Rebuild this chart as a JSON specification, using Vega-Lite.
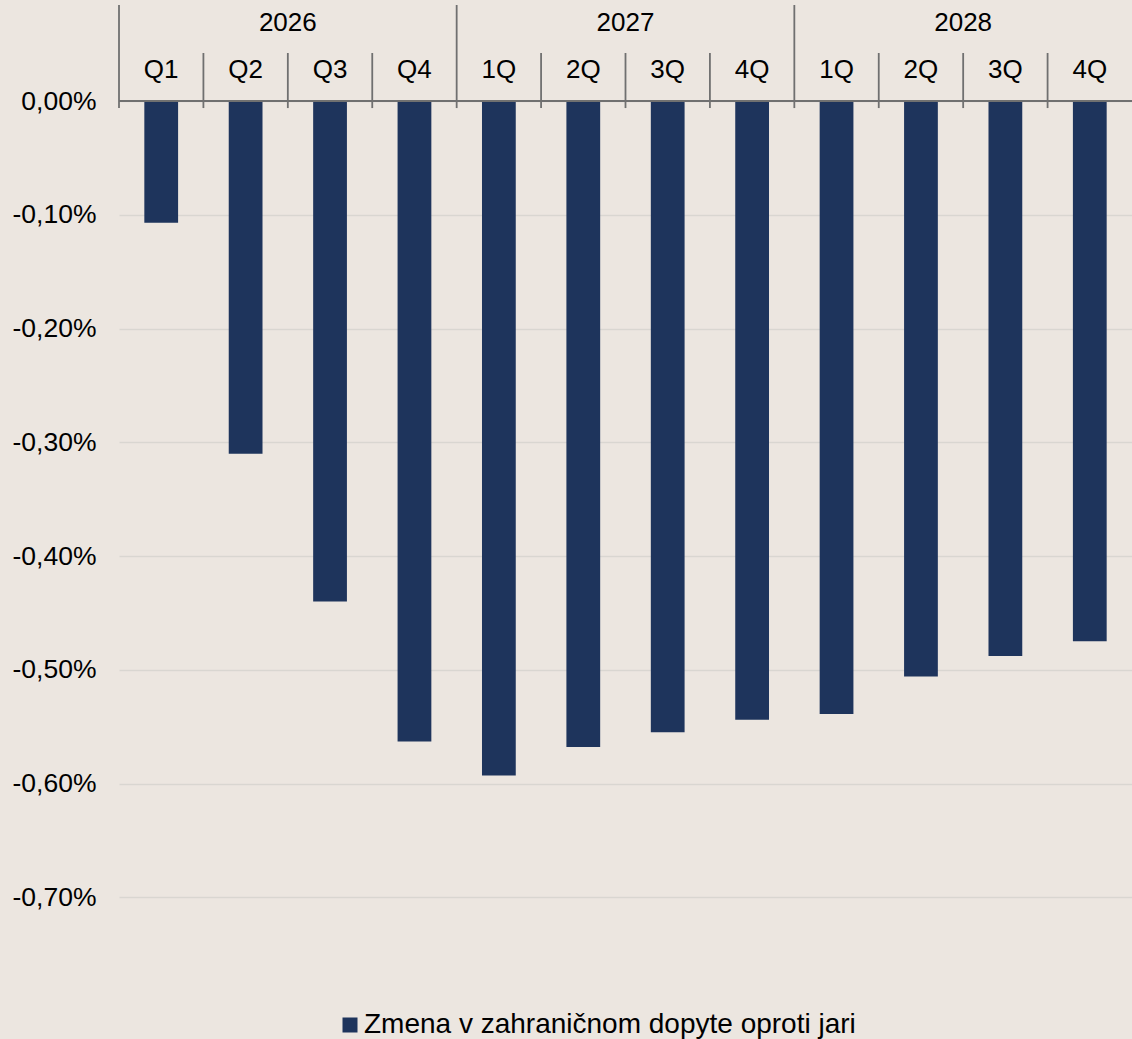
{
  "$schema": "https://vega.github.io/schema/vega-lite/v6.json",
  "autosize": {"type": "none"},
  "padding": {"left": 119, "top": 0, "right": 0, "bottom": 28},
  "width": 1013,
  "height": 1011,
  "background": "#ECE6E0",
  "config": {
    "view": {"stroke": null},
    "font": "Liberation Sans",
    "text": {"font": "Liberation Sans"}
  },
  "data": {
    "values": [
      {"period": "2026-1", "year": "2026", "quarter": "Q1", "q": 1, "value": -0.107},
      {"period": "2026-2", "year": "2026", "quarter": "Q2", "q": 2, "value": -0.310},
      {"period": "2026-3", "year": "2026", "quarter": "Q3", "q": 3, "value": -0.440},
      {"period": "2026-4", "year": "2026", "quarter": "Q4", "q": 4, "value": -0.563},
      {"period": "2027-1", "year": "2027", "quarter": "1Q", "q": 1, "value": -0.593},
      {"period": "2027-2", "year": "2027", "quarter": "2Q", "q": 2, "value": -0.568},
      {"period": "2027-3", "year": "2027", "quarter": "3Q", "q": 3, "value": -0.555},
      {"period": "2027-4", "year": "2027", "quarter": "4Q", "q": 4, "value": -0.544},
      {"period": "2028-1", "year": "2028", "quarter": "1Q", "q": 1, "value": -0.539},
      {"period": "2028-2", "year": "2028", "quarter": "2Q", "q": 2, "value": -0.506},
      {"period": "2028-3", "year": "2028", "quarter": "3Q", "q": 3, "value": -0.488},
      {"period": "2028-4", "year": "2028", "quarter": "4Q", "q": 4, "value": -0.475}
    ]
  },
  "layer": [
    {
      "mark": {"type": "bar", "width": {"band": 0.4}},
      "encoding": {
        "x": {"field": "period", "type": "nominal", "axis": null,
              "scale": {"paddingInner": 0, "paddingOuter": 0}},
        "y": {"field": "value", "type": "quantitative", "title": null,
              "scale": {"domain": [-0.8, 0.0888], "nice": false, "zero": false},
              "axis": {
                "values": [0, -0.1, -0.2, -0.3, -0.4, -0.5, -0.6, -0.7],
                "labelExpr": "replace(replace(format(datum.value, '.2f'), '\u2212', '-'), '.', ',') + '%'",
                "domain": false, "ticks": false, "labelPadding": 23,
                "labelFontSize": 26.5, "labelColor": "#000000", "labelFont": "Liberation Sans",
                "grid": true, "gridColor": "#D9D6D1", "gridWidth": 1.5
              }},
        "y2": {"datum": 0},
        "color": {"datum": "Zmena v zahraničnom dopyte oproti jari", "type": "nominal",
                  "scale": {"range": ["#1E345C"]},
                  "legend": {"orient": "none", "legendX": 217, "legendY": 1011, "title": null,
                             "symbolType": "square", "symbolSize": 225, "symbolOpacity": 1,
                             "labelFontSize": 28, "labelColor": "#000000", "labelFont": "Liberation Sans",
                             "labelOffset": 0, "labelLimit": 0, "padding": 0}}
      }
    },
    {
      "mark": {"type": "rule", "color": "#707070", "strokeWidth": 1.8},
      "encoding": {"y": {"datum": 0}}
    },
    {
      "transform": [{"filter": "datum.q != 1"}],
      "mark": {"type": "rule", "color": "#707070", "strokeWidth": 1.8},
      "encoding": {
        "x": {"field": "period", "type": "nominal", "bandPosition": 0},
        "y": {"datum": -0.0062},
        "y2": {"datum": 0.0422}
      }
    },
    {
      "transform": [{"filter": "datum.q == 1"}],
      "mark": {"type": "rule", "color": "#707070", "strokeWidth": 1.8},
      "encoding": {
        "x": {"field": "period", "type": "nominal", "bandPosition": 0},
        "y": {"datum": -0.0062},
        "y2": {"datum": 0.0844}
      }
    },
    {
      "mark": {"type": "text", "fontSize": 26, "color": "#000000", "baseline": "alphabetic", "align": "center"},
      "encoding": {
        "x": {"field": "period", "type": "nominal", "bandPosition": 0.5},
        "y": {"datum": 0.0202},
        "text": {"field": "quarter"}
      }
    },
    {
      "transform": [{"filter": "datum.q == 3"}],
      "mark": {"type": "text", "fontSize": 26, "color": "#000000", "baseline": "alphabetic", "align": "center"},
      "encoding": {
        "x": {"field": "period", "type": "nominal", "bandPosition": 0},
        "y": {"datum": 0.0616},
        "text": {"field": "year"}
      }
    }
  ]
}
